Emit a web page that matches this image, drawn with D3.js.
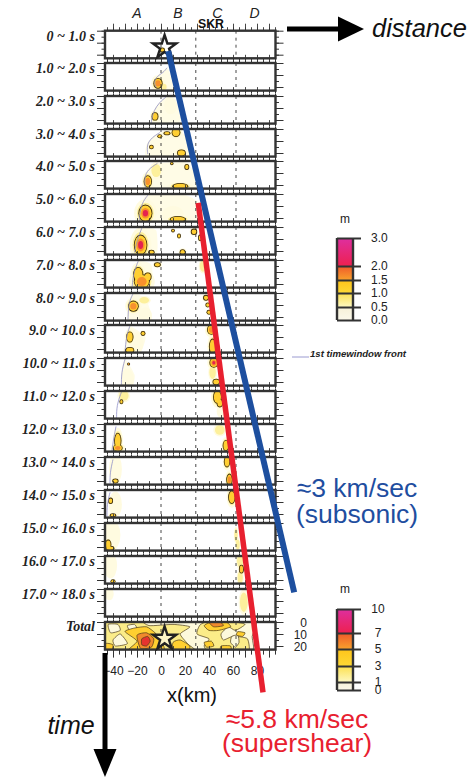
<!DOCTYPE html>
<html>
<head>
<meta charset="utf-8">
<script src="https://cdn.jsdelivr.net/npm/d3@7"></script>
<style>
  html, body { margin: 0; padding: 0; background: #fff; }
  svg { display: block; }
  .sans { font-family: "Liberation Sans", Arial, sans-serif; }
  .window-label { font-family: "Liberation Serif", serif; font-weight: bold; font-style: italic; font-size: 14px; fill: #222; }
</style>
</head>
<body>
<svg id="chart" width="471" height="777"></svg>
<script>
// time windows, seconds
const windowLabels = ['0 ~ 1.0 s', '1.0 ~ 2.0 s', '2.0 ~ 3.0 s', '3.0 ~ 4.0 s', '4.0 ~ 5.0 s', '5.0 ~ 6.0 s',
  '6.0 ~ 7.0 s', '7.0 ~ 8.0 s', '8.0 ~ 9.0 s', '9.0 ~ 10.0 s', '10.0 ~ 11.0 s', '11.0 ~ 12.0 s',
  '12.0 ~ 13.0 s', '13.0 ~ 14.0 s', '14.0 ~ 15.0 s', '15.0 ~ 16.0 s', '16.0 ~ 17.0 s', '17.0 ~ 18.0 s'];
const panelTops = [30.7, 63, 96, 129, 161, 194, 227, 260, 293, 325, 358, 391, 424, 457, 490, 523, 556, 589];
const totalTop = 622;

const distanceTicks = [-40, -20, 0, 20, 40, 60, 80];
const depthTicks = [0, 10, 20];
const segmentNames = ['A', 'B', 'C', 'D'];
const segmentCentres = [-20, 14, 47, 78];
const segmentBoundaries = [0, 29, 62.5];

// slip patches per window: [x km, depth km, rx km, ry km, slip m]
const slipPatches = [
  [[1, 16, 1.6, 1.4, 1.1]],
  [[-2.5, 17, 3.2, 3.8, 1.6], [2, 20, 2, 2, 0.7]],
  [[-5, 17, 2.2, 2.8, 1.3], [8, 8, 3, 4, 0.5]],
  [[12.5, 3, 3, 3, 1.3], [5, 3.5, 2.2, 1, 1.2], [-1, 6, 1.4, 1, 1.1], [-8, 15, 1.3, 1.3, 1.1], [17, 20, 3, 2.2, 1.2]],
  [[-11, 17, 2.8, 4.5, 1.7], [16, 21, 6, 2, 1.2], [21.5, 5, 1.4, 1.8, 1.1], [9, 2, 0.8, 0.8, 1.05], [-4, 8, 3, 4, 0.6]],
  [[-13, 16, 5.2, 6.5, 2.4], [14, 21, 6, 2, 1.2], [10, 17, 5, 4, 0.5]],
  [[-17, 15, 5, 8, 2.6], [18, 21, 1.8, 1.8, 1.1], [15, 7.5, 1, 1.4, 1.1], [10, 3, 0.9, 0.9, 1.05],
    [27.5, 4, 2, 2, 1.2], [-8, 21, 2, 1.4, 1.1], [32.5, 9, 1, 2, 1.05]],
  [[-19, 12, 3.6, 5.5, 1.3], [-16, 18, 6, 5.5, 1.8], [-11, 14, 2.5, 3, 1.2], [-3, 4, 2.2, 1.4, 1.1], [35, 5, 2, 3.5, 0.7]],
  [[-23, 11, 3.8, 4, 1.6], [-14, 6, 3, 2, 0.7], [37.5, 4, 1.8, 1.8, 1.2], [39, 10, 1.4, 1.4, 1.05], [40, 16, 1.4, 1.4, 1.05], [-13, 19, 3, 4, 0.5]],
  [[-26, 10, 2.4, 4, 1.2], [-15, 7, 1.4, 1.4, 1.2], [-26, 21, 3, 2, 1.2], [42, 4, 3, 3.5, 1.8], [43, 18, 2.4, 6, 1.3], [-20, 15, 3, 5, 0.4]],
  [[44, 4, 3, 3.5, 2.2], [46, 20, 2.4, 2, 1.2], [-27, 5, 0.6, 0.6, 2.1], [-28, 18, 3, 5, 0.5], [43, 12, 2, 4, 0.6]],
  [[47, 5, 3, 5, 1.3], [49, 10, 2, 3, 1.1], [-33, 9, 1, 1.4, 1.1], [-31, 4, 3, 3, 0.6], [50, 17, 2, 3, 0.5]],
  [[-36, 14, 2.4, 6, 1.4], [-36, 20, 3.4, 2.4, 1.9], [54, 18, 2, 4, 1.2], [49, 5, 3, 3, 0.6]],
  [[-38, 20, 2, 1.4, 1.1], [55, 4, 2, 4, 1.2], [57, 19, 2, 4.5, 1.9], [-38, 10, 3, 7, 0.4]],
  [[-42, 9, 1.4, 2, 1.1], [-40, 21, 2, 1, 1.2], [59, 6, 2.4, 5, 1.3], [-38, 12, 3, 6, 0.3]],
  [[-44, 18, 2, 3.5, 1.4], [-42.5, 21, 3, 1.4, 1.3], [-41, 10, 4, 7, 0.4], [62.5, 10, 1, 4, 0.7], [64, 18, 1.2, 3, 0.7]],
  [[-40, 21, 1.4, 1, 1.1], [-42, 8, 3, 6, 0.3], [67, 11, 1.4, 3, 1.1], [66, 4, 2, 4, 0.6], [66, 18, 1.6, 4, 0.6]],
  [[69, 11, 2.4, 6, 0.55], [-43, 4, 2, 3, 0.2]]
];

// outer edge of the pale slip area per window: [x km, depth km]
const hazeOutlines = [
  [],
  [[5, 4], [9, 14], [14, 24], [-4, 24], [-6, 14]],
  [[4, 1], [12, 3], [16, 24], [-8, 24], [-6, 12], [-1, 5]],
  [[-1, 3], [10, 0], [20, 5], [29, 24], [-11, 24], [-12, 13], [-7.5, 7]],
  [[-3, 2], [20, 1], [28, 10], [34, 24], [-13, 24], [-14, 14], [-11, 7]],
  [[-11, 1], [20, 1], [32, 8], [33, 24], [-18, 24], [-16, 8]],
  [[-16, 1], [-4, 3], [-4, 24], [-22, 24], [-20, 11]],
  [[-19, 1], [-8, 4], [-8, 24], [-24, 24], [-23, 11]],
  [[-23, 0], [-12, 6], [-8, 24], [-27.5, 24], [-27, 8]],
  [[-26, 1], [-13, 10], [-18, 24], [-30, 24], [-29, 10]],
  [[-30, 1], [-22, 14], [-24, 24], [-33, 24], [-33, 12]]
];

// first time window rupture front per window: [x km, depth km]
const rupturePanels = [1, 2, 3, 4, 5, 6, 7, 8, 9, 10, 11, 12, 13, 14];
const ruptureFronts = [
  [[5, 4], [2, 8], [-3.5, 11], [-6, 16], [-4, 20.5]],
  [[4, 1], [-1, 5], [-6, 12], [-8, 20], [-8, 22.5]],
  [[-1, 3], [-7.5, 7], [-12, 13], [-11, 21]],
  [[-3, 2], [-11, 7], [-14, 14], [-13, 22]],
  [[-11, 1], [-16, 7.5], [-18, 18], [-18, 23]],
  [[-16, 1], [-20, 11], [-22, 21]],
  [[-19, 1], [-23, 11], [-24, 22]],
  [[-23, 0], [-27, 8], [-27.5, 22]],
  [[-26, 1], [-29, 10], [-30, 23]],
  [[-30, 1], [-33, 12], [-33, 24]],
  [[-33, 1], [-37, 12], [-37, 23]],
  [[-37.5, 2], [-40, 15], [-41, 24]],
  [[-40, 2], [-42.5, 13], [-42.5, 22]],
  [[-42.5, 2], [-45, 12], [-45, 22]]
];

// total slip contours: [slip level m, outline in km]
const totalContours = [
  [0, [[-50, -3], [30, -3], [78, -2], [76, 12], [75, 27], [30, 27], [-50, 27]]],
  [1, [[-50, -2], [-20, -2], [-10, 3], [10, 2], [24, 4], [16, 10], [22, 18], [28, 27], [-50, 27]]],
  [0, [[-44, 2], [-36, 2], [-34, 7], [-42, 9]]],
  [0, [[-28, 3], [-22, 2], [-20, 6], [-26, 7]]],
  [0, [[-40, 15], [-34, 10], [-28, 18], [-38, 20]]],
  [1, [[30, 10], [33, 2], [45, -2], [62, 0], [70, 2], [62, 7], [56, 4], [50, 10], [52, 15], [60, 12], [72, 14], [72, 27], [42, 27], [36, 20], [40, 14]]],
  [0, [[59, 12], [64, 11], [65, 17], [62, 21], [58, 17]]],
  [3, [[-30, 8], [-22, 5], [-12, 4], [-5, 9], [0, 15], [2, 25], [-28, 25], [-20, 16]]],
  [3, [[36, 3], [42, 0], [54, 0], [58, 4], [48, 7], [40, 7]]],
  [3, [[10, 17], [16, 15], [24, 20], [22, 26], [10, 26]]],
  [3, [[50, 20], [58, 20], [58, 25], [50, 25]]],
  [3, [[-47, 18], [-40, 19], [-42, 26], [-48, 26]]],
  [3, [[64, 8], [70, 9], [68, 12], [63, 11]]],
  [3, [[36, 17], [42, 16], [44, 20], [38, 21]]],
  [5, [[-20, 11], [-12, 9], [-6, 14], [-8, 21], [-17, 22]]],
  [5, [[40, 0], [48, -1], [52, 3], [44, 4]]],
  [7, [[-16, 14], [-11, 12], [-9, 16], [-12, 20], [-16, 19]]]
];

// epicentre [x km, depth km]
const epicentre = [3, 13.8];

// rupture speed lines: [x km, time s]
const subshearLine = [[6, 0.62], [111, 17.12]];
const supershearLine = [[31, 5.25], [85, 20.17]];

// colour scales of the two legends
const slipLevels = [0, 0.5, 1, 1.5, 2, 3];
const slipLevelLabels = ['0.0', '0.5', '1.0', '1.5', '2.0', '3.0'];
const totalLevels = [0, 1, 3, 5, 7, 10];
const bandColours = [
  ['#fbf8ea', '#f6f1d8'],
  ['#fdf8c0', '#fce04e'],
  ['#fdd835', '#ffc41a'],
  ['#f8a02c', '#ef5a2a'],
  ['#ee2050', '#de2fa0']
];
const levelFill = ['#fffbe0', '#fdf09c', '#ffcf30', '#f7912d', '#e5234f'];
const levelReach = [1.8, 1.35, 1, 0.68, 0.42];

const svg = d3.select('#chart');
const dark = '#333';

const x = d3.scaleLinear().domain([-40, 80]).range([113, 257]);
const panelLeft = 105, panelRight = 275.5, panelHeight = 27.6;
const depth = top => d3.scaleLinear().domain([0, 23]).range([top, top + panelHeight]);
const timeY = d3.scaleLinear().domain([0, 17]).range([30.7, 588.4]);
const curve = d3.curveCardinalClosed.tension(0.4);

const defs = svg.append('defs');
defs.append('filter').attr('id', 'soft').attr('x', '-20%').attr('y', '-20%').attr('width', '140%').attr('height', '140%')
  .append('feGaussianBlur').attr('stdDeviation', 0.55);

bandColours.forEach((pair, i) => {
  const grad = defs.append('linearGradient').attr('id', `band${i}`).attr('x1', 0).attr('x2', 0).attr('y1', 1).attr('y2', 0);
  grad.append('stop').attr('offset', 0).attr('stop-color', pair[0]);
  grad.append('stop').attr('offset', 1).attr('stop-color', pair[1]);
});

function clipFor(id, top) {
  defs.append('clipPath').attr('id', id).append('rect')
    .attr('x', panelLeft).attr('y', top).attr('width', panelRight - panelLeft).attr('height', panelHeight);
}

function styleAxis(g, width) {
  g.select('.domain').remove();
  g.selectAll('line').attr('stroke', dark).attr('stroke-width', width);
}

// ticks on all four sides of a panel
function drawTicks(g, y, top, isFirst, isLast) {
  const xMinor = d3.range(-45, 96, 5);
  const xMajor = d3.range(-40, 96, 10);
  const yMinor = d3.range(0, 23, 5);
  const bottom = top + panelHeight;

  if (isFirst) {
    g.append('g').attr('transform', `translate(0,${top})`)
      .call(d3.axisTop(x).tickValues(xMinor).tickSize(3.5).tickFormat('')).call(styleAxis, 0.9);
    g.append('g').attr('transform', `translate(0,${top})`)
      .call(d3.axisTop(x).tickValues(xMajor).tickSize(7).tickFormat('')).call(styleAxis, 0.9);
  } else {
    g.append('g').attr('transform', `translate(0,${top})`)
      .call(d3.axisTop(x).tickValues(xMinor).tickSize(2.6).tickFormat('')).call(styleAxis, 1);
  }
  g.append('g').attr('transform', `translate(0,${bottom})`)
    .call(d3.axisTop(x).tickValues(xMajor).tickSize(3.5).tickFormat('')).call(styleAxis, 0.9);
  g.append('g').attr('transform', `translate(0,${bottom})`)
    .call(d3.axisBottom(x).tickValues(xMinor).tickSize(isLast ? 5 : 2.6).tickFormat('')).call(styleAxis, 1);
  if (isLast) {
    g.append('g').attr('transform', `translate(0,${bottom})`)
      .call(d3.axisBottom(x).tickValues(xMajor).tickSize(8).tickFormat('')).call(styleAxis, 1);
  }

  [[panelLeft, d3.axisLeft], [panelRight, d3.axisRight]].forEach(([px, axis]) => {
    g.append('g').attr('transform', `translate(${px},0)`)
      .call(axis(y).tickValues(yMinor).tickSize(3.5).tickFormat('')).call(styleAxis, 1);
    g.append('g').attr('transform', `translate(${px},0)`)
      .call(axis(y).tickValues([0, 10, 20]).tickSize(8).tickFormat('')).call(styleAxis, 1);
  });
}

// level by level so that touching patches share one outline
function drawPatches(g, y, patches) {
  const kmX = x(1) - x(0), kmZ = y(1) - y(0);
  slipLevels.slice(0, 5).forEach((level, i) => {
    const over = patches.filter(p => p[4] > level);
    const add = (parent, extra) => parent.selectAll(null).data(over).join('ellipse')
      .attr('cx', d => x(d[0])).attr('cy', d => y(d[1]))
      .attr('rx', d => d[2] * kmX * levelReach[i] + extra).attr('ry', d => d[3] * kmZ * levelReach[i] + extra);
    if (level === 1) {
      add(g, 0.8).attr('fill', '#3a2a10');
    }
    add(g, 0).attr('fill', levelFill[i]);
  });
}

function drawSegmentLines(g, top) {
  g.selectAll(null).data(segmentBoundaries).join('line')
    .attr('x1', d => x(d)).attr('x2', d => x(d))
    .attr('y1', top).attr('y2', top + panelHeight)
    .attr('stroke', '#333').attr('stroke-width', 0.9).attr('stroke-dasharray', '3,4');
}

function drawFrame(g, top) {
  g.append('rect').attr('x', panelLeft).attr('y', top)
    .attr('width', panelRight - panelLeft).attr('height', panelHeight)
    .attr('fill', 'none').attr('stroke', dark).attr('stroke-width', 2.4);
}

// one panel per time window
panelTops.forEach((top, i) => {
  const y = depth(top);
  const g = svg.append('g');
  clipFor(`clip${i}`, top);
  const inner = g.append('g').attr('clip-path', `url(#clip${i})`);
  const soft = inner.append('g').attr('filter', 'url(#soft)');

  if (hazeOutlines[i] && hazeOutlines[i].length) {
    soft.append('path')
      .attr('d', d3.line().x(d => x(d[0])).y(d => y(d[1])).curve(curve)(hazeOutlines[i]))
      .attr('fill', '#fffce6');
  }
  drawPatches(soft, y, slipPatches[i]);

  const frontAt = rupturePanels.indexOf(i);
  if (frontAt >= 0) {
    inner.append('path')
      .attr('d', d3.line().x(d => x(d[0])).y(d => y(d[1])).curve(d3.curveBasis)(ruptureFronts[frontAt]))
      .attr('fill', 'none').attr('stroke', '#8f8fc8').attr('stroke-width', 0.8);
  }
  drawSegmentLines(inner, top);
  drawTicks(g, y, top, i === 0, false);
  drawFrame(g, top);

  svg.append('text').attr('class', 'window-label')
    .attr('x', 95).attr('y', top + 10).attr('text-anchor', 'end')
    .text(windowLabels[i]);
});

// total slip panel
const totalY = depth(totalTop);
const totalG = svg.append('g');
clipFor('clipTotal', totalTop);
const totalInner = totalG.append('g').attr('clip-path', 'url(#clipTotal)');
const totalFill = [];
totalFill[0] = '#fdf9dc'; totalFill[1] = '#fbec88'; totalFill[3] = '#ffcf30'; totalFill[5] = '#f08a2d'; totalFill[7] = '#e5332f';
totalContours.forEach(([level, outline]) => {
  totalInner.append('path')
    .attr('d', d3.line().x(d => x(d[0])).y(d => totalY(d[1])).curve(curve)(outline))
    .attr('fill', totalFill[level])
    .attr('stroke', '#4a3a18').attr('stroke-width', 0.7);
});
drawSegmentLines(totalInner, totalTop);
drawTicks(totalG, totalY, totalTop, false, true);
drawFrame(totalG, totalTop);

svg.append('text').attr('class', 'window-label')
  .attr('x', 95).attr('y', totalTop + 9).attr('text-anchor', 'end').text('Total');

// stars
const star = d3.symbol().type(d3.symbolStar).size(170);
[[depth(panelTops[0]), 'none'], [totalY, '#fdf6c8']].forEach(([y, fill]) => {
  svg.append('path').attr('d', star())
    .attr('transform', `translate(${x(epicentre[0])},${y(epicentre[1])})`)
    .attr('fill', fill).attr('stroke', '#222').attr('stroke-width', 2.4);
});

// bottom distance axis
const distanceAxis = svg.append('g').attr('transform', 'translate(0,661)')
  .call(d3.axisBottom(x).tickValues(distanceTicks).tickSize(0).tickPadding(5));
distanceAxis.select('.domain').remove();
distanceAxis.selectAll('text').style('font-size', '12px').style('font-family', '"Liberation Sans"').attr('fill', '#222');

svg.append('text').attr('class', 'sans').attr('x', 192).attr('y', 702)
  .attr('text-anchor', 'middle').attr('font-size', 20).attr('fill', '#111').text('x(km)');

// depth labels next to the total panel
svg.selectAll('.depth-label').data(depthTicks).join('text')
  .attr('class', 'sans depth-label')
  .attr('x', 307).attr('y', d => totalY(d) + 4.5).attr('text-anchor', 'end')
  .attr('font-size', 12).attr('fill', '#222').text(d => d);

// segment letters
svg.selectAll('.segment').data(segmentNames).join('text')
  .attr('class', 'sans segment')
  .attr('x', (d, i) => x(segmentCentres[i])).attr('y', 18).attr('text-anchor', 'middle')
  .attr('font-size', 14).attr('font-style', 'italic').attr('fill', '#222').text(d => d);
svg.append('text').attr('class', 'sans').attr('x', 211).attr('y', 28).attr('text-anchor', 'middle')
  .attr('font-size', 12.3).attr('font-weight', 'bold').attr('fill', '#111').text('SKR');

// speed lines
const speedLine = d3.line().x(d => x(d[0])).y(d => timeY(d[1]));
svg.append('path').attr('d', speedLine(subshearLine)).attr('stroke', '#1d4f9f').attr('stroke-width', 6).attr('fill', 'none');
svg.append('path').attr('d', speedLine(supershearLine)).attr('stroke', '#e8202f').attr('stroke-width', 5.5).attr('fill', 'none');

// arrows
function arrow(x1, y1, x2, y2, tipX, tipY, spread) {
  svg.append('line').attr('x1', x1).attr('y1', y1).attr('x2', x2).attr('y2', y2)
    .attr('stroke', '#000').attr('stroke-width', 5);
  const pts = y1 === y2
    ? [[x2, y2 - spread], [tipX, tipY], [x2, y2 + spread]]
    : [[x2 - spread, y2], [tipX, tipY], [x2 + spread, y2]];
  svg.append('polygon').attr('points', pts.join(' ')).attr('fill', '#000');
}
arrow(287, 29, 338, 29, 364, 29, 12.5);
arrow(105, 653, 105, 749, 105, 777, 11.5);

svg.append('text').attr('class', 'sans').attr('x', 372).attr('y', 37)
  .attr('font-size', 25.5).attr('font-style', 'italic').attr('fill', '#111').text('distance');
svg.append('text').attr('class', 'sans').attr('x', 71).attr('y', 734).attr('text-anchor', 'middle')
  .attr('font-size', 25).attr('font-style', 'italic').attr('fill', '#111').text('time');

// speed notes
const notes = [
  ['≈3 km/sec', 357, 497, '#1f4ea0'],
  ['(subsonic)', 357, 523, '#1f4ea0'],
  ['≈5.8 km/sec', 297, 728, '#e8202f'],
  ['(supershear)', 297, 752, '#e8202f']
];
svg.selectAll('.note').data(notes).join('text')
  .attr('class', 'sans note')
  .attr('x', d => d[1]).attr('y', d => d[2]).attr('text-anchor', 'middle')
  .attr('font-size', 26.5).attr('fill', d => d[3]).text(d => d[0]);

// legends
function drawLegend(levels, range, labels, unitY, labelMiddle) {
  const scale = d3.scaleLinear().domain(levels).range(range);
  const g = svg.append('g');
  d3.pairs(levels).forEach(([lo, hi], i) => {
    g.append('rect').attr('x', 337).attr('width', 16)
      .attr('y', scale(hi)).attr('height', scale(lo) - scale(hi))
      .attr('fill', `url(#band${i})`);
  });
  const axis = g.append('g').attr('transform', 'translate(337,0)')
    .call(d3.axisRight(scale).tickValues(levels).tickSize(24).tickPadding(10).tickFormat((d, i) => labels[i]));
  axis.select('.domain').remove();
  axis.selectAll('line').attr('stroke', dark).attr('stroke-width', 2);
  axis.selectAll('text').style('font-family', '"Liberation Sans"').style('font-size', '12px').attr('fill', '#222');
  if (labelMiddle) {
    axis.selectAll('text').attr('x', 41).attr('text-anchor', 'middle');
  }
  [337, 353].forEach(px => {
    g.append('line').attr('x1', px).attr('x2', px).attr('y1', range[range.length - 1]).attr('y2', range[0])
      .attr('stroke', dark).attr('stroke-width', 2.4);
  });
  svg.append('text').attr('class', 'sans').attr('x', 345).attr('y', unitY).attr('text-anchor', 'middle')
    .attr('font-size', 12).attr('fill', '#222').text('m');
}
drawLegend(slipLevels, [320, 307, 293, 280, 266, 238], slipLevelLabels, 223, false);
drawLegend(totalLevels, [690, 682, 666, 649, 633, 609], totalLevels, 593, true);

// front legend
svg.append('line').attr('x1', 292).attr('x2', 309).attr('y1', 357).attr('y2', 357)
  .attr('stroke', '#9a9ad0').attr('stroke-width', 1);
svg.append('text').attr('class', 'sans').attr('x', 310).attr('y', 356.5)
  .attr('font-size', 9.6).attr('font-style', 'italic').attr('font-weight', 'bold').attr('fill', '#222')
  .text('1st timewindow front');
</script>
</body>
</html>
